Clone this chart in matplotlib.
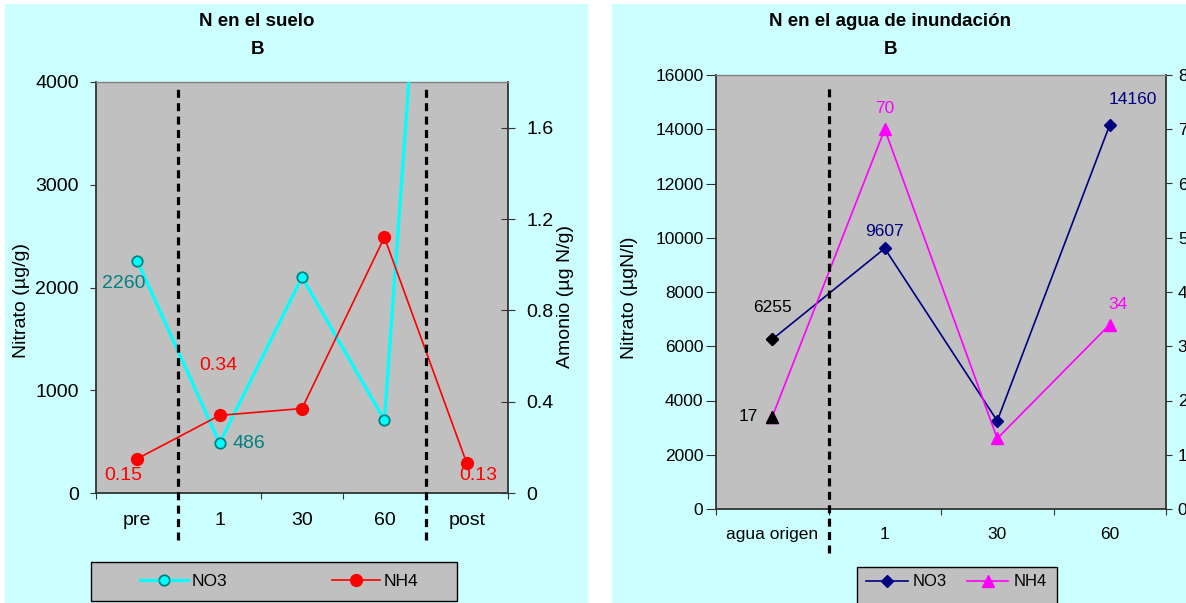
import matplotlib
matplotlib.use("Agg")
import matplotlib.pyplot as plt
from matplotlib.patches import Rectangle

plt.rcParams['font.family'] = ['Liberation Sans', 'DejaVu Sans']

# --- data: left panel (soil) ---
suelo_cats = ['pre', '1', '30', '60', 'post']
suelo_no3 = [2260, 486, 2100, 710, 11800]
suelo_nh4 = [0.15, 0.34, 0.37, 1.12, 0.13]
suelo_no3_lab = {0: '2260', 1: '486'}
suelo_nh4_lab = {0: '0.15', 1: '0.34', 4: '0.13'}

# --- data: right panel (flood water) ---
agua_cats = ['agua origen', '1', '30', '60']
agua_no3 = [6255, 9607, 3250, 14160]
agua_nh4 = [17, 70, 13, 34]
agua_no3_lab = {0: '6255', 1: '9607', 3: '14160'}
agua_nh4_lab = {0: '17', 1: '70', 3: '34'}

W, H = 1186, 603
fig = plt.figure(figsize=(W / 100, H / 100), dpi=100)
fig.patch.set_facecolor('white')

CYAN_BG = '#CCFFFF'
GRAY = '#C0C0C0'

def fx(px): return px / W
def fy(py): return 1 - py / H

# panel backgrounds
fig.add_artist(Rectangle((fx(5), fy(603)), fx(588) - fx(5), fy(4) - fy(603),
                         transform=fig.transFigure, facecolor=CYAN_BG, edgecolor='none', zorder=-10))
fig.add_artist(Rectangle((fx(612), fy(603)), fx(1186) - fx(612), fy(4) - fy(603),
                         transform=fig.transFigure, facecolor=CYAN_BG, edgecolor='none', zorder=-10))


def style_axes(ax):
    ax.set_facecolor(GRAY)
    for s in ['left', 'bottom', 'right']:
        ax.spines[s].set_color('#333333')
        ax.spines[s].set_linewidth(1.3)
    ax.spines['top'].set_color('#808080')
    ax.spines['top'].set_linewidth(1)


def cat_ticks(ax, cats, size, pad):
    n = len(cats)
    ax.set_xlim(-0.5, n - 0.5)
    ax.set_xticks([i - 0.5 for i in range(n + 1)])
    ax.set_xticklabels([])
    ax.set_xticks(range(n), minor=True)
    ax.set_xticklabels(cats, minor=True, fontsize=size)
    ax.tick_params(axis='x', which='major', direction='out', length=4, color='#333333')
    ax.tick_params(axis='x', which='minor', length=0, pad=pad)


# ================= left: N en el suelo =================
ax1 = fig.add_axes([fx(96), fy(493), fx(508) - fx(96), fy(82) - fy(493)])
style_axes(ax1)
x1 = list(range(len(suelo_cats)))
cat_ticks(ax1, suelo_cats, 14, 14)
ax1.set_ylim(0, 4000)
ax1.set_yticks([0, 1000, 2000, 3000, 4000])
ax1.tick_params(axis='y', direction='out', length=4.5, pad=8, labelsize=14, color='#333333')

l_no3, = ax1.plot(x1, suelo_no3, color='#00FFFF', lw=2.3, marker='o', ms=7.5,
                  mfc='#00FFFF', mec='#008080', mew=1.3, label='NO3', zorder=3)
for i, t in suelo_no3_lab.items():
    off = {0: (-10, -16.5), 1: (21, 0)}[i]
    ax1.annotate(t, (x1[i], suelo_no3[i]), xytext=off, textcoords='offset points',
                 ha='center', va='center', color='#008080', fontsize=14)

ax1b = ax1.twinx()
ax1b.set_ylim(0, 1.8)
ax1b.set_yticks([0, 0.4, 0.8, 1.2, 1.6])
ax1b.set_yticklabels(['0', '0.4', '0.8', '1.2', '1.6'])
ax1b.tick_params(axis='y', direction='inout', length=10, pad=8, labelsize=14, color='#333333')
for s in ax1b.spines.values():
    s.set_visible(False)
l_nh4, = ax1b.plot(x1, suelo_nh4, color='red', lw=1.2, marker='o', ms=8.5,
                   mfc='red', mec='red', label='NH4', zorder=3)
for i, t in suelo_nh4_lab.items():
    off = {0: (-10, -12), 1: (-1, 36), 4: (8.5, -9)}[i]
    ax1b.annotate(t, (x1[i], suelo_nh4[i]), xytext=off, textcoords='offset points',
                  ha='center', va='center', color='red', fontsize=14)

for xb in [0.5, 3.5]:
    ax1b.axvline(xb, ymin=-0.114, ymax=0.99, color='black', lw=2.3,
                 linestyle=(0, (2.5, 1.7)), clip_on=False, zorder=5)

fig.text(fx(257), fy(22), 'N en el suelo', ha='center', va='center', fontsize=13.5, fontweight='bold')
fig.text(fx(257), fy(49), 'B', ha='center', va='center', fontsize=13.5, fontweight='bold')
fig.text(fx(22), fy(300), 'Nitrato (µg/g)', rotation=90, ha='center', va='center', fontsize=14)
fig.text(fx(565), fy(296), 'Amonio (µg N/g)', rotation=90, ha='center', va='center', fontsize=14)

fig.add_artist(Rectangle((fx(91), fy(601)), fx(457) - fx(91), fy(562) - fy(601),
                         transform=fig.transFigure, facecolor=GRAY, edgecolor='black', lw=1, zorder=2))
fig.legend(handles=[l_no3, l_nh4], loc='center left', bbox_to_anchor=(fx(140), fy(581)),
           ncol=2, frameon=False, fontsize=12.5, handlelength=2.75, handletextpad=0.25,
           columnspacing=6.0, borderpad=0, borderaxespad=0)

# ================= right: N en el agua de inundacion =================
ax2 = fig.add_axes([fx(716), fy(509), fx(1166) - fx(716), fy(75) - fy(509)])
style_axes(ax2)
x2 = list(range(len(agua_cats)))
cat_ticks(ax2, agua_cats, 12.5, 13)
ax2.set_ylim(0, 16000)
ax2.set_yticks(range(0, 16001, 2000))
ax2.tick_params(axis='y', direction='out', length=7, pad=2, labelsize=12.5, color='#333333')

l2_no3, = ax2.plot(x2, agua_no3, color='#000080', lw=1.2, marker='D', ms=6.5,
                   mfc='#000080', mec='#000080', label='NO3', zorder=3)
ax2.plot(x2[:1], agua_no3[:1], linestyle='none', marker='D', ms=6.5, color='black', zorder=4)
for i, t in agua_no3_lab.items():
    off = {0: (0, 23), 1: (0, 12), 3: (16.5, 18.5)}[i]
    ax2.annotate(t, (x2[i], agua_no3[i]), xytext=off, textcoords='offset points',
                 ha='center', va='center', color='black' if i == 0 else '#000080', fontsize=12.5)

ax2b = ax2.twinx()
ax2b.set_ylim(0, 80)
ax2b.set_yticks(range(0, 81, 10))
ax2b.tick_params(axis='y', direction='out', length=4.5, pad=4, labelsize=12.5, color='#333333')
for s in ax2b.spines.values():
    s.set_visible(False)
l2_nh4, = ax2b.plot(x2, agua_nh4, color='#FF00FF', lw=1.2, marker='^', ms=8,
                    mfc='#FF00FF', mec='#FF00FF', label='NH4', zorder=3)
ax2b.plot(x2[:1], agua_nh4[:1], linestyle='none', marker='^', ms=8, color='black', zorder=4)
for i, t in agua_nh4_lab.items():
    off = {0: (-17, 0), 1: (0, 15), 3: (6, 14.5)}[i]
    ax2b.annotate(t, (x2[i], agua_nh4[i]), xytext=off, textcoords='offset points',
                  ha='center', va='center', color='black' if i == 0 else '#FF00FF', fontsize=12.5)

ax2b.axvline(0.5, ymin=-0.101, ymax=0.98, color='black', lw=2.3,
             linestyle=(0, (2.5, 1.7)), clip_on=False, zorder=5)

fig.text(fx(890), fy(22), 'N en el agua de inundación', ha='center', va='center', fontsize=13.5, fontweight='bold')
fig.text(fx(890), fy(49), 'B', ha='center', va='center', fontsize=13.5, fontweight='bold')
fig.text(fx(630), fy(298), 'Nitrato (µgN/l)', rotation=90, ha='center', va='center', fontsize=14)

fig.add_artist(Rectangle((fx(857), fy(606)), fx(1057) - fx(857), fy(567) - fy(606),
                         transform=fig.transFigure, facecolor=GRAY, edgecolor='black', lw=1, zorder=2))
fig.legend(handles=[l2_no3, l2_nh4], loc='center left', bbox_to_anchor=(fx(866), fy(582)),
           ncol=2, frameon=False, fontsize=12, handlelength=2.5, handletextpad=0.3,
           columnspacing=1.2, borderpad=0, borderaxespad=0)

fig.savefig('out.png', dpi=100, facecolor=fig.get_facecolor())
